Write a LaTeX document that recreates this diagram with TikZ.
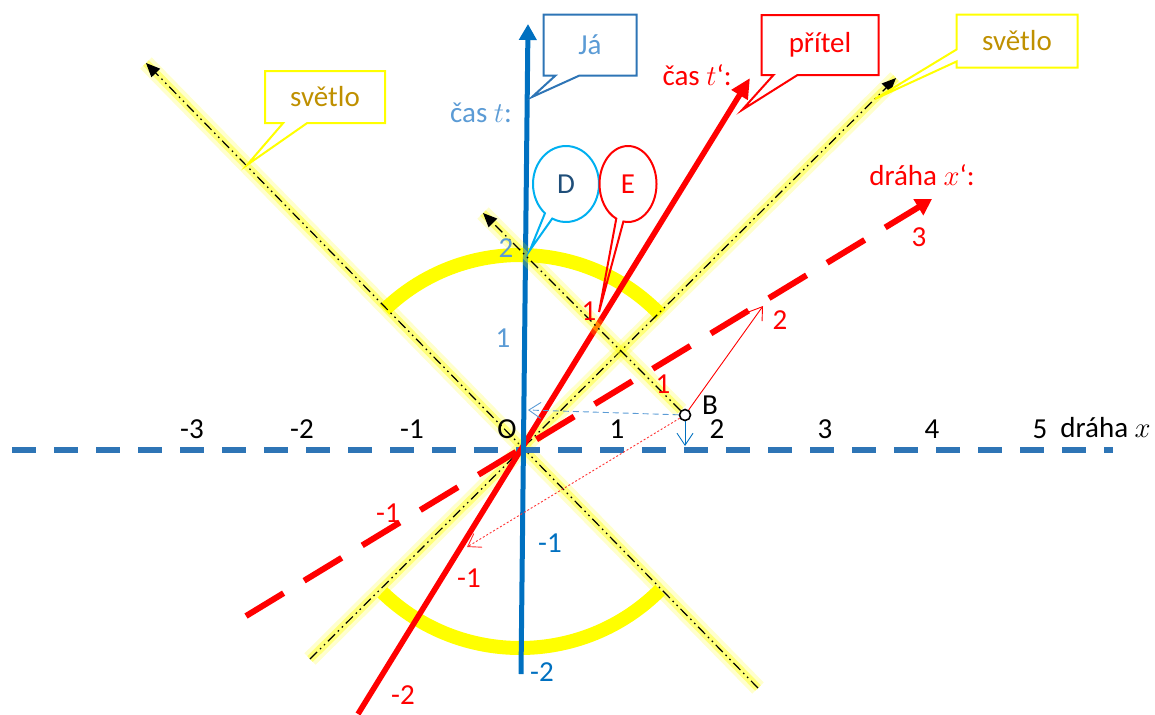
\documentclass[tikz,border=0pt]{standalone}
\usepackage{fontspec}
\setmainfont{Carlito}
\usepackage{tikz}
\usetikzlibrary{arrows.meta,shapes.callouts}
\definecolor{axblue}{RGB}{46,117,182}
\definecolor{tblue}{RGB}{0,112,192}
\definecolor{lblue}{RGB}{91,155,213}
\definecolor{dcyan}{RGB}{0,176,240}
\definecolor{dnavy}{RGB}{31,78,121}
\definecolor{lgold}{RGB}{191,144,0}
\definecolor{lyellow}{RGB}{255,255,0}

\begin{document}
\begin{tikzpicture}[x=0.5pt,y=-0.5pt,
  font=\fontsize{14.5}{17}\selectfont,
  glow/.style={preaction={draw=lyellow,solid,line width=8pt,opacity=.2,-},
               preaction={draw=lyellow,solid,line width=4pt,opacity=.4,-}},
  light/.style={glow,draw=black,line width=0.6pt,
                dash pattern=on 5pt off 2pt on 0.8pt off 2pt on 0.8pt off 2pt,
                -{Triangle[length=7pt,width=6pt]}},
  sun/.style={draw=lyellow,line width=7pt},
  xaxis/.style={draw=axblue,line width=3pt,dash pattern=on 12pt off 9pt},
  taxis/.style={draw=tblue,line width=2.5pt,-{Triangle[length=8pt,width=8.5pt]}},
  raxis/.style={draw=red,line width=2.8pt,-{Triangle[length=10pt,width=9pt]}},
  xraxis/.style={draw=red,line width=3pt,dash pattern=on 22pt off 12pt,
                 -{Triangle[length=8pt,width=9pt]}},
  thin arrow/.style={line width=0.45pt,-{Straight Barb[length=6pt,width=8pt]}},
  box/.style={rectangle callout,draw,line width=1pt,inner sep=0pt},
  bubble/.style={ellipse callout,draw,line width=1pt,inner sep=0pt,
                 minimum height=38pt},
]
  \useasboundingbox (0,0) rectangle (1155,714);

  % points
  \coordinate (O) at (520,450);
  \coordinate (xl) at (12,450);
  \coordinate (xr) at (1113,450);
  \coordinate (tbot) at (521,674);
  \coordinate (ttop) at (528,24);
  \coordinate (rbot) at (358,714);
  \coordinate (rtop) at (750,78);
  \coordinate (xrbot) at (246,616);
  \coordinate (xrtop) at (932,199);
  \coordinate (l1tip) at (146,63);
  \coordinate (l1end) at (758,688);
  \coordinate (l2start) at (310,659);
  \coordinate (l2tip) at (896,78);
  \coordinate (l3tip) at (483,213);
  \coordinate (bt) at (528,410);
  \coordinate (bx) at (685,446);
  \coordinate (bxr) at (763,306);
  \coordinate (bxl) at (467,547);

  % light cone
  \draw[sun] (O) ++(226:195) arc[start angle=226,end angle=316,radius=195];
  \draw[sun] (O) ++(45:198) arc[start angle=45,end angle=134,radius=198];
  \draw[light] (l1end) -- (l1tip);
  \draw[light] (l2start) -- (l2tip);

  % axes
  \draw[xaxis] (xl) -- (xr);
  \draw[xraxis] (xrbot) -- (xrtop);
  \draw[raxis] (rbot) -- (rtop);
  \draw[taxis] (tbot) -- (ttop);

  % event B
  \node[circle,draw,line width=0.8pt,inner sep=0pt,minimum size=5.5pt] (B) at (685,415) {};
  \draw[light] (B) -- (l3tip);
  \draw[thin arrow,draw=lblue,dash pattern=on 3pt off 2pt] (B) -- (bt);
  \draw[thin arrow,draw=tblue] (B) -- (bx);
  \draw[thin arrow,draw=red] (B) -- (bxr);
  \draw[thin arrow,draw=red!80,dash pattern=on 1pt off 1pt] (B) -- (bxl);
  \node (Blbl) at (710,405) {B};

  % labels on x
  \foreach \v/\px in {-3/192,-2/302,-1/412,1/617,2/717,3/825,4/932,5/1040}
    \node (x\v) at (\px,429) {\v};
  \node (Olbl) at (507,429) {O};
  \node[anchor=west,inner sep=0pt] (xlbl) at (1060,428) {dráha $x$};

  % labels on t
  \node[text=lblue] (tlbl) at (481,113) {čas $t$:};
  \node[text=lblue] (t2) at (506,248) {2};
  \node[text=lblue] (t1) at (503,338) {1};
  \node[text=tblue] (tm1) at (550,543) {-1};
  \node[text=tblue] (tm2) at (542,672) {-2};

  % labels on t' and x'
  \node[text=red] (rlbl) at (697,75) {čas $t$‘:};
  \node[text=red] (xrlbl) at (922,175) {dráha $x$‘:};
  \node[text=red] (r1) at (589,311) {1};
  \node[text=red] (rm1) at (469,578) {-1};
  \node[text=red] (rm2) at (403,695) {-2};
  \node[text=red] (xr1) at (663,384) {1};
  \node[text=red] (xr2) at (780,320) {2};
  \node[text=red] (xr3) at (919,237) {3};
  \node[text=red] (xrm1) at (388,513) {-1};

  % callouts
  \node[box,draw=axblue,text=lblue,minimum width=46.5pt,minimum height=30.5pt,
        callout pointer width=12pt,callout absolute pointer={(532,97)}] (ja) at (590,45) {Já};
  \node[box,draw=red,text=red,minimum width=58.5pt,minimum height=30pt,
        callout pointer width=12pt,callout absolute pointer={(742,110)}] (pritel) at (820,45) {přítel};
  \node[box,draw=lyellow,text=lgold,minimum width=60pt,minimum height=26pt,
        callout pointer width=12pt,callout absolute pointer={(247,165)}] (svl) at (325,97) {světlo};
  \node[box,draw=lyellow,text=lgold,minimum width=60.5pt,minimum height=26.5pt,
        callout pointer width=6pt,callout absolute pointer={(875,99)}] (svr) at (1017,41) {světlo};
  \node[bubble,draw=dcyan,text=dnavy,minimum width=33pt,
        callout absolute pointer={(530,250)}] (D) at (566,184) {D};
  \node[bubble,draw=red,text=red,minimum width=28.5pt,
        callout absolute pointer={(599,312)}] (E) at (628,184) {E};
\end{tikzpicture}
\end{document}
